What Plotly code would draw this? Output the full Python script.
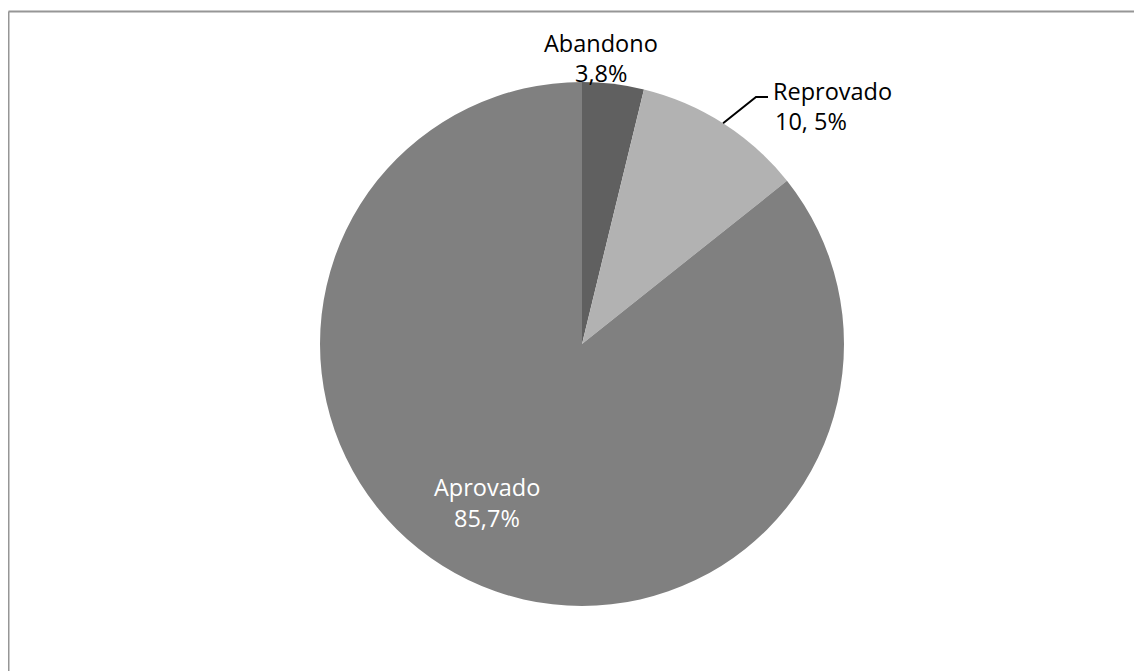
import math
import plotly.graph_objects as go

labels = ["Abandono", "Reprovado", "Aprovado"]
values = [3.8, 10.5, 85.7]
value_texts = ["3,8%", "10, 5%", "85,7%"]
colors = ["#606060", "#b2b2b2", "#808080"]

W, H = 1142, 671
OFF = 8  # page body margin offset
cx, cy, r = 582, 344, 262


def px(x):
    return (x - OFF) / W


def py(y):
    return 1 - (y - OFF) / H


fig = go.Figure()
fig.add_trace(go.Pie(
    labels=labels,
    values=values,
    sort=False,
    direction="clockwise",
    rotation=0,
    marker=dict(colors=colors, line=dict(width=0)),
    textinfo="none",
    hoverinfo="skip",
    showlegend=False,
    domain=dict(x=[px(cx - r), px(cx + r)], y=[py(cy + r), py(cy - r)]),
))

font = dict(family="Open Sans", size=23.5, color="#000000")
wfont = dict(family="Open Sans", size=23.5, color="#ffffff")

annotations = [
    dict(x=px(601), y=py(43), text=labels[0], font=font),
    dict(x=px(601), y=py(73), text=value_texts[0], font=font),
    dict(x=px(832), y=py(91), text=labels[1], font=font),
    dict(x=px(811), y=py(121), text=value_texts[1], font=font),
    dict(x=px(487), y=py(487), text=labels[2], font=wfont),
    dict(x=px(487), y=py(518), text=value_texts[2], font=wfont),
]
for a in annotations:
    a.update(xref="paper", yref="paper", showarrow=False, xanchor="center", yanchor="middle")

# leader line for Reprovado from mid-angle of its slice
total = sum(values)
mid = (values[0] + values[1] / 2) / total * 2 * math.pi
sx = cx + r * math.sin(mid)
sy = cy - r * math.cos(mid)
ex, ey = 756, 97
path = f"M {px(sx)} {py(sy)} L {px(ex)} {py(ey)} L {px(768)} {py(ey)}"

shapes = [
    dict(type="path", xref="paper", yref="paper", path=path,
         line=dict(color="#000000", width=2)),
    dict(type="line", xref="paper", yref="paper", x0=px(8.5), y0=py(11.5), x1=px(1160), y1=py(11.5),
         line=dict(color="#969696", width=2)),
    dict(type="line", xref="paper", yref="paper", x0=px(8.5), y0=py(11.5), x1=px(8.5), y1=py(690),
         line=dict(color="#969696", width=2)),
]

fig.update_layout(
    width=W, height=H,
    margin=dict(l=0, r=0, t=0, b=0),
    paper_bgcolor="white",
    plot_bgcolor="white",
    annotations=annotations,
    shapes=shapes,
)

fig.write_html("out.html")
